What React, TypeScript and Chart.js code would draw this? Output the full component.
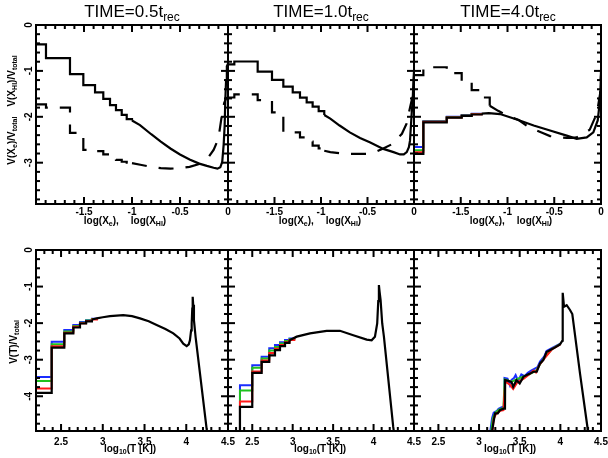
import React, { useEffect, useRef } from "react";
import { Chart, registerables } from "chart.js";

Chart.register(...registerables);

type Pt = [number, number];

// ---------------- Upper row: volume fraction vs log(X_e) (solid) and log(X_HI) (dashed)
// TIME = 0.5 t_rec
const xeSolidStep05: Pt[] = [[-2.0,-0.42],[-1.896,-0.72],[-1.646,-1.07],[-1.507,-1.31],[-1.385,-1.47],[-1.299,-1.61],[-1.229,-1.745],[-1.167,-1.855],[-1.107,-1.96],[-1.055,-2.05],[-1.0,-2.08]];
const xeSolidCurve05: Pt[] = [[-1.0,-2.08],[-0.917,-2.18],[-0.8,-2.38],[-0.7,-2.54],[-0.6,-2.69],[-0.5,-2.82],[-0.4,-2.93],[-0.3,-3.02],[-0.22,-3.07],[-0.15,-3.11],[-0.11,-3.13],[-0.08,-3.10],[-0.06,-2.98],[-0.045,-2.6],[-0.035,-2.2],[-0.028,-1.64],[-0.02,-1.2],[-0.012,-0.9],[0,-0.84]];
const xhiDashStep05: Pt[] = [[-2.0,-1.73],[-1.896,-1.80],[-1.646,-2.35],[-1.507,-2.72],[-1.385,-2.75],[-1.299,-2.82],[-1.229,-2.88],[-1.167,-2.94],[-1.107,-2.98],[-1.055,-3.0],[-1.0,-3.01]];
const xhiDashCurve05: Pt[] = [[-1.0,-3.01],[-0.9,-3.05],[-0.8,-3.09],[-0.7,-3.12],[-0.6,-3.13],[-0.5,-3.12],[-0.4,-3.09],[-0.3,-3.03],[-0.25,-2.97],[-0.2,-2.87],[-0.15,-2.72],[-0.1,-2.48],[-0.07,-2.05],[-0.04,-1.7],[-0.02,-1.6],[0,-1.57]];

// TIME = 1.0 t_rec
const xeSolidStep10: Pt[] = [[-2.0,-0.86],[-1.932,-0.795],[-1.681,-1.015],[-1.527,-1.197],[-1.405,-1.343],[-1.304,-1.467],[-1.226,-1.584],[-1.154,-1.686],[-1.09,-1.78],[-1.025,-1.876],[-0.965,-1.96]];
const xeSolidCurve10: Pt[] = [[-0.965,-1.96],[-0.9,-2.04],[-0.8,-2.19],[-0.69,-2.34],[-0.58,-2.46],[-0.47,-2.56],[-0.33,-2.70],[-0.22,-2.77],[-0.15,-2.82],[-0.11,-2.82],[-0.078,-2.77],[-0.055,-2.66],[-0.043,-2.52],[-0.025,-1.93],[-0.014,-1.64],[-0.006,-1.2],[0,-1.02]];
const xhiDashStep10: Pt[] = [[-2.0,-1.58],[-1.932,-1.51],[-1.681,-1.635],[-1.527,-1.905],[-1.405,-2.34],[-1.226,-2.45],[-1.154,-2.54],[-1.09,-2.63],[-1.025,-2.69],[-0.965,-2.74]];
const xhiDashCurve10: Pt[] = [[-0.965,-2.74],[-0.9,-2.77],[-0.78,-2.80],[-0.62,-2.81],[-0.5,-2.81],[-0.43,-2.78],[-0.33,-2.69],[-0.24,-2.60],[-0.13,-2.37],[-0.08,-2.15],[-0.043,-1.8],[-0.02,-1.6],[0,-1.5]];

// TIME = 4.0 t_rec
const xeSolidStep40: Pt[] = [[-2.0,-2.81],[-1.90,-2.12],[-1.65,-2.02],[-1.49,-1.98],[-1.383,-1.95],[-1.276,-1.93]];
const xeSolidCurve40: Pt[] = [[-1.276,-1.93],[-1.2,-1.92],[-1.08,-1.94],[-0.9,-2.06],[-0.72,-2.19],[-0.545,-2.30],[-0.367,-2.41],[-0.26,-2.48],[-0.153,-2.45],[-0.082,-2.34],[-0.035,-2.08],[-0.011,-1.64],[0,-1.1]];
const xeBlueStep40: Pt[] = [[-2.0,-2.66],[-1.90,-2.09],[-1.65,-2.0],[-1.49,-1.96],[-1.383,-1.935],[-1.276,-1.915]];
const xeGreenStep40: Pt[] = [[-2.0,-2.73],[-1.90,-2.10],[-1.65,-2.01],[-1.49,-1.97],[-1.383,-1.94],[-1.276,-1.92]];
const xeRedStep40: Pt[] = [[-2.0,-2.77],[-1.90,-2.11],[-1.65,-2.015],[-1.49,-1.975],[-1.383,-1.945],[-1.276,-1.925]];
const xhiDashStep40: Pt[] = [[-2.0,-1.09],[-1.90,-0.92],[-1.65,-1.05],[-1.49,-1.23],[-1.383,-1.42],[-1.276,-1.58],[-1.19,-1.76]];
const xhiDashCurve40: Pt[] = [[-1.19,-1.76],[-1.1,-1.87],[-1.0,-1.98],[-0.88,-2.07],[-0.77,-2.23],[-0.63,-2.35],[-0.545,-2.42],[-0.45,-2.45],[-0.367,-2.46],[-0.3,-2.46],[-0.26,-2.45],[-0.19,-2.38],[-0.12,-2.28],[-0.06,-2.0],[-0.03,-1.75],[-0.01,-1.5],[0,-1.02]];

// ---------------- Lower row: volume fraction vs log10(T)
// TIME = 0.5 t_rec
const tBlackStep05: Pt[] = [[2.2,-3.91],[2.388,-2.67],[2.539,-2.28],[2.647,-2.12],[2.727,-2.01],[2.80,-1.95],[2.87,-1.90]];
const tBlackCurve05: Pt[] = [[2.87,-1.90],[2.927,-1.87],[3.0,-1.84],[3.086,-1.81],[3.245,-1.78],[3.35,-1.81],[3.446,-1.87],[3.55,-1.95],[3.645,-2.05],[3.75,-2.16],[3.845,-2.28],[3.92,-2.42],[3.964,-2.56],[4.005,-2.63],[4.03,-2.58],[4.044,-2.47],[4.058,-2.2],[4.065,-2.01],[4.072,-1.6],[4.077,-1.28],[4.083,-1.5],[4.092,-1.92],[4.112,-2.38],[4.244,-4.89],[4.26,-5.1]];
const tBlueStep05: Pt[] = [[2.2,-3.47],[2.388,-2.51],[2.539,-2.19],[2.647,-2.05],[2.727,-1.97],[2.80,-1.92],[2.87,-1.88],[2.93,-1.86]];
const tGreenStep05: Pt[] = [[2.2,-3.58],[2.388,-2.58],[2.539,-2.23],[2.647,-2.08],[2.727,-1.99],[2.80,-1.93],[2.87,-1.89],[2.93,-1.87]];
const tRedStep05: Pt[] = [[2.2,-3.79],[2.388,-2.63],[2.539,-2.26],[2.647,-2.10],[2.727,-2.0],[2.80,-1.94],[2.87,-1.90],[2.93,-1.87]];

// TIME = 1.0 t_rec
const tBlackStep10: Pt[] = [[2.2,-5.5],[2.348,-4.29],[2.50,-3.36],[2.616,-3.06],[2.71,-2.88],[2.781,-2.74],[2.843,-2.63],[2.905,-2.54],[2.96,-2.47]];
const tBlackCurve10: Pt[] = [[2.96,-2.47],[3.05,-2.37],[3.214,-2.28],[3.42,-2.21],[3.584,-2.21],[3.749,-2.33],[3.915,-2.45],[3.976,-2.47],[4.017,-2.37],[4.045,-2.01],[4.058,-1.4],[4.066,-0.96],[4.075,-1.15],[4.087,-1.37],[4.107,-2.01],[4.128,-2.37],[4.243,-4.84],[4.26,-5.1]];
const tBlueStep10: Pt[] = [[2.2,-5.5],[2.348,-3.70],[2.50,-3.15],[2.616,-2.92],[2.71,-2.69],[2.781,-2.60],[2.843,-2.52],[2.905,-2.46],[2.96,-2.42],[3.02,-2.39]];
const tGreenStep10: Pt[] = [[2.2,-5.5],[2.348,-3.84],[2.50,-3.22],[2.616,-2.97],[2.71,-2.75],[2.781,-2.65],[2.843,-2.56],[2.905,-2.49],[2.96,-2.44],[3.02,-2.40]];
const tRedStep10: Pt[] = [[2.2,-5.5],[2.348,-4.14],[2.50,-3.32],[2.616,-3.02],[2.71,-2.82],[2.781,-2.70],[2.843,-2.60],[2.905,-2.52],[2.96,-2.46],[3.02,-2.41]];

// TIME = 4.0 t_rec
const tBlack40: Pt[] = [[3.15,-5.1],[3.175,-4.75],[3.197,-4.47],[3.23,-4.47],[3.257,-4.38],[3.30,-4.34],[3.319,-4.34],[3.321,-3.56],[3.36,-3.58],[3.40,-3.61],[3.42,-3.74],[3.46,-3.56],[3.50,-3.65],[3.545,-3.47],[3.586,-3.42],[3.627,-3.38],[3.668,-3.33],[3.71,-3.33],[3.75,-3.10],[3.79,-3.01],[3.83,-2.79],[3.87,-2.74],[3.916,-2.69],[3.996,-2.58],[4.025,-2.48],[4.029,-1.17],[4.045,-1.55],[4.078,-1.51],[4.119,-1.64],[4.147,-1.75],[4.242,-3.38],[4.333,-4.84],[4.34,-5.1]];
const tBlue40: Pt[] = [[3.13,-5.1],[3.16,-4.6],[3.18,-4.45],[3.22,-4.40],[3.24,-4.34],[3.28,-4.30],[3.31,-4.28],[3.313,-3.50],[3.35,-3.52],[3.38,-3.70],[3.40,-3.55],[3.43,-3.50],[3.45,-3.42],[3.48,-3.58],[3.52,-3.40],[3.56,-3.45],[3.60,-3.36],[3.64,-3.30],[3.68,-3.25],[3.72,-3.20],[3.75,-3.05],[3.80,-2.92],[3.83,-2.76],[3.9,-2.68],[4.0,-2.56]];
const tGreen40: Pt[] = [[3.14,-5.1],[3.17,-4.6],[3.2,-4.45],[3.25,-4.36],[3.3,-4.32],[3.315,-3.54],[3.4,-3.6],[3.5,-3.5],[3.6,-3.42],[3.7,-3.3],[3.8,-2.95],[3.9,-2.7],[4.0,-2.57]];
const tRed40: Pt[] = [[3.16,-5.1],[3.18,-4.62],[3.21,-4.48],[3.26,-4.40],[3.30,-4.38],[3.322,-3.6],[3.38,-3.68],[3.42,-3.80],[3.47,-3.62],[3.55,-3.52],[3.62,-3.40],[3.67,-3.30],[3.70,-3.35],[3.74,-3.15],[3.8,-2.98],[3.9,-2.71],[4.0,-2.58]];

// ---------------- Axes
const TIMES = ["0.5", "1.0", "4.0"];
const TOP_X_TICKS = [-1.5, -1, -0.5, 0];
const TOP_Y_TICKS = [0, -1, -2, -3];
const BOT_X_TICKS = [2.5, 3, 3.5, 4, 4.5];
const BOT_Y_TICKS = [0, -1, -2, -3, -4];
const TOP_X_RANGE: [number, number] = [-2, 0];
const TOP_Y_RANGE: [number, number] = [-3.9, 0];
const BOT_X_RANGE: [number, number] = [2.2, 4.5];
const BOT_Y_RANGE: [number, number] = [-4.95, 0];

const FONT = "'Liberation Sans', Arial, Helvetica, sans-serif";
const TICK_FONT = { family: FONT, size: 10, weight: "bold" as const };

const COLS: [number, number][] = [[36, 228], [228, 414], [414, 601]];
const ROWS: [number, number][] = [[25, 204], [250, 431]];
const PAD_L = 34, PAD_R = 12, PAD_T = 8, PAD_B = 26;

const BLACK = "#000000", BLUE = "#1a2cff", GREEN = "#1fc21f", RED = "#ff1a1a";

function ds(data: Pt[], color: string, order: number, extra: any = {}) {
  return {
    data,
    borderColor: color,
    backgroundColor: color,
    borderWidth: color === BLACK ? 2.2 : 2,
    pointRadius: 0,
    fill: false,
    tension: 0,
    order,
    borderCapStyle: "butt",
    borderJoinStyle: "miter",
    ...extra,
  };
}

type PanelSpec = {
  col: number; row: number;
  xRange: [number, number]; yRange: [number, number];
  xTicks: number[]; yTicks: number[];
  xMinor: number; yMinor: number;
  datasets: any[];
  showY: boolean;
  xPad: number;
};

function makeFrameTicks(xRange: number[], yRange: number[], xMinor: number, yMinor: number) {
  return {
    id: "frameTicks",
    afterDraw(chart: any) {
      const ctx = chart.ctx;
      const a = chart.chartArea;
      const L = a.left, R = a.right, T = a.top, B = a.bottom;
      const x0 = xRange[0], x1 = xRange[1], y0 = yRange[0], y1 = yRange[1];
      ctx.save();
      ctx.fillStyle = "#000000";
      const nx = Math.round((x1 - x0) / xMinor);
      for (let k = 0; k <= nx; k++) {
        const v = x0 + k * xMinor;
        const r = v / 0.5;
        const major = Math.abs(r - Math.round(r)) < 1e-4;
        const len = major ? 7 : 4;
        const p = L + ((v - x0) / (x1 - x0)) * (R - L);
        ctx.fillRect(p - 1, B - len, 2, len);
        ctx.fillRect(p - 1, T, 2, len);
      }
      const ny = Math.round((y1 - y0) / yMinor);
      for (let k = 0; k <= ny; k++) {
        const v = y1 - k * yMinor;
        if (v < y0 - 1e-6) break;
        const major = Math.abs(v - Math.round(v)) < 1e-4;
        const len = major ? 7 : 4;
        const p = T + ((y1 - v) / (y1 - y0)) * (B - T);
        ctx.fillRect(L, p - 1, len, 2);
        ctx.fillRect(R - len, p - 1, len, 2);
      }
      ctx.strokeStyle = "#000000";
      ctx.lineWidth = 2;
      ctx.strokeRect(L, T, R - L, B - T);
      ctx.restore();
    },
  };
}

function Panel({ spec }: { spec: PanelSpec }) {
  const ref = useRef<HTMLCanvasElement>(null);
  const [c0, c1] = COLS[spec.col];
  const [r0, r1] = ROWS[spec.row];
  const w = c1 - c0 + PAD_L + PAD_R;
  const h = r1 - r0 + PAD_T + PAD_B;
  useEffect(() => {
    const chart = new Chart(ref.current as HTMLCanvasElement, {
      type: "line",
      data: { datasets: spec.datasets },
      options: {
        animation: false,
        responsive: false,
        events: [],
        layout: { padding: { left: 0, right: PAD_R, top: PAD_T, bottom: 0 } },
        plugins: {
          legend: { display: false },
          tooltip: { enabled: false },
          title: { display: false },
        },
        scales: {
          x: {
            type: "linear",
            min: spec.xRange[0],
            max: spec.xRange[1],
            grid: { display: false, drawTicks: false },
            border: { display: false },
            ticks: {
              font: TICK_FONT, color: "#000", padding: spec.xPad,
              minRotation: 0, maxRotation: 0, autoSkip: false,
              callback: (v: any) => String(v),
            },
            afterBuildTicks: (s: any) => { s.ticks = spec.xTicks.map((v) => ({ value: v })); },
            afterFit: (s: any) => { s.height = PAD_B; s.paddingLeft = 0; s.paddingRight = 0; },
          },
          y: {
            type: "linear",
            min: spec.yRange[0],
            max: spec.yRange[1],
            grid: { display: false, drawTicks: false },
            border: { display: false },
            ticks: {
              display: spec.showY,
              font: TICK_FONT, color: "#000", padding: 2,
              minRotation: 90, maxRotation: 90, crossAlign: "center", autoSkip: false,
              callback: (v: any) => String(v),
            },
            afterBuildTicks: (s: any) => { s.ticks = spec.yTicks.map((v) => ({ value: v })); },
            afterFit: (s: any) => { s.width = PAD_L; s.paddingTop = 0; s.paddingBottom = 0; },
          },
        } as any,
      },
      plugins: [makeFrameTicks(spec.xRange, spec.yRange, spec.xMinor, spec.yMinor) as any],
    } as any);
    return () => chart.destroy();
  }, []);
  return (
    <canvas
      ref={ref}
      width={w}
      height={h}
      style={{ position: "absolute", left: c0 - PAD_L, top: r0 - PAD_T, width: w, height: h }}
    />
  );
}

const DASH = [15, 12];

const panels: PanelSpec[] = [
  {
    col: 0, row: 0, xRange: TOP_X_RANGE, yRange: TOP_Y_RANGE, xTicks: TOP_X_TICKS, yTicks: TOP_Y_TICKS,
    xMinor: 0.1, yMinor: 0.2, showY: true, xPad: 2,
    datasets: [
      ds(xeSolidStep05, BLACK, 0, { stepped: true }),
      ds(xeSolidCurve05, BLACK, 0),
      ds(xhiDashStep05, BLACK, 1, { stepped: true, borderDash: DASH }),
      ds(xhiDashCurve05, BLACK, 1, { borderDash: DASH }),
    ],
  },
  {
    col: 1, row: 0, xRange: TOP_X_RANGE, yRange: TOP_Y_RANGE, xTicks: TOP_X_TICKS, yTicks: TOP_Y_TICKS,
    xMinor: 0.1, yMinor: 0.2, showY: false, xPad: 2,
    datasets: [
      ds(xeSolidStep10, BLACK, 0, { stepped: true }),
      ds(xeSolidCurve10, BLACK, 0),
      ds(xhiDashStep10, BLACK, 1, { stepped: true, borderDash: DASH }),
      ds(xhiDashCurve10, BLACK, 1, { borderDash: DASH }),
    ],
  },
  {
    col: 2, row: 0, xRange: TOP_X_RANGE, yRange: TOP_Y_RANGE, xTicks: TOP_X_TICKS, yTicks: TOP_Y_TICKS,
    xMinor: 0.1, yMinor: 0.2, showY: false, xPad: 2,
    datasets: [
      ds(xeSolidStep40, BLACK, 0, { stepped: true }),
      ds(xeSolidCurve40, BLACK, 0),
      ds(xhiDashStep40, BLACK, 1, { stepped: true, borderDash: DASH }),
      ds(xhiDashCurve40, BLACK, 1, { borderDash: DASH }),
      ds(xeRedStep40, RED, 2, { stepped: true }),
      ds(xeGreenStep40, GREEN, 3, { stepped: true }),
      ds(xeBlueStep40, BLUE, 4, { stepped: true }),
    ],
  },
  {
    col: 0, row: 1, xRange: BOT_X_RANGE, yRange: BOT_Y_RANGE, xTicks: BOT_X_TICKS, yTicks: BOT_Y_TICKS,
    xMinor: 0.1, yMinor: 0.25, showY: true, xPad: 5,
    datasets: [
      ds(tBlackStep05, BLACK, 0, { stepped: true }),
      ds(tBlackCurve05, BLACK, 0),
      ds(tRedStep05, RED, 2, { stepped: true }),
      ds(tGreenStep05, GREEN, 3, { stepped: true }),
      ds(tBlueStep05, BLUE, 4, { stepped: true }),
    ],
  },
  {
    col: 1, row: 1, xRange: BOT_X_RANGE, yRange: BOT_Y_RANGE, xTicks: BOT_X_TICKS, yTicks: BOT_Y_TICKS,
    xMinor: 0.1, yMinor: 0.25, showY: false, xPad: 5,
    datasets: [
      ds(tBlackStep10, BLACK, 0, { stepped: true }),
      ds(tBlackCurve10, BLACK, 0),
      ds(tRedStep10, RED, 2, { stepped: true }),
      ds(tGreenStep10, GREEN, 3, { stepped: true }),
      ds(tBlueStep10, BLUE, 4, { stepped: true }),
    ],
  },
  {
    col: 2, row: 1, xRange: BOT_X_RANGE, yRange: BOT_Y_RANGE, xTicks: BOT_X_TICKS, yTicks: BOT_Y_TICKS,
    xMinor: 0.1, yMinor: 0.25, showY: false, xPad: 5,
    datasets: [
      ds(tBlack40, BLACK, 0),
      ds(tRed40, RED, 2),
      ds(tGreen40, GREEN, 3),
      ds(tBlue40, BLUE, 4),
    ],
  },
];

const Sub = ({ children, size = 7, drop = 2 }: any) => (
  <span style={{ fontSize: size, position: "relative", top: drop }}>{children}</span>
);

const TITLE_X = [132, 321, 508];
const XT_TOP_X = [125, 320, 511];
const XT_BOT_X = [130, 320, 510];

const abs = (extra: any): any => ({
  position: "absolute",
  whiteSpace: "nowrap",
  fontFamily: FONT,
  color: "#000",
  ...extra,
});

export default function App() {
  return (
    <div style={{ position: "absolute", left: 0, top: 0, width: 608, height: 458, background: "#fff", overflow: "hidden" }}>
      {panels.map((p, i) => (
        <Panel key={i} spec={p} />
      ))}
      {TIMES.map((t, i) => (
        <div key={"t" + i} style={abs({ left: TITLE_X[i], top: 3, transform: "translateX(-50%)", fontSize: 17, lineHeight: "17px" })}>
          TIME={t}t<Sub size={12} drop={4}>rec</Sub>
        </div>
      ))}
      {XT_TOP_X.map((x, i) => (
        <div key={"xa" + i} style={abs({ left: x, top: 215, transform: "translateX(-50%)", fontSize: 10, fontWeight: "bold", lineHeight: "11px" })}>
          log(X<Sub>e</Sub>),<span style={{ display: "inline-block", width: 12 }} />log(X<Sub>HI</Sub>)
        </div>
      ))}
      {XT_BOT_X.map((x, i) => (
        <div key={"xb" + i} style={abs({ left: x, top: 443, transform: "translateX(-50%)", fontSize: 10, fontWeight: "bold", lineHeight: "11px" })}>
          log<Sub>10</Sub>(T [K])
        </div>
      ))}
      <div style={abs({ left: 12, top: 110, transform: "translate(-50%,-50%) rotate(-90deg)", fontSize: 10, fontWeight: "bold", lineHeight: "11px" })}>
        V(X<Sub>e</Sub>)/V<Sub>total</Sub>
        <span style={{ display: "inline-block", width: 10 }} />
        V(X<Sub>HI</Sub>)/V<Sub>total</Sub>
      </div>
      <div style={abs({ left: 14, top: 342, transform: "translate(-50%,-50%) rotate(-90deg)", fontSize: 10, fontWeight: "bold", lineHeight: "11px" })}>
        V(T)/V<Sub>total</Sub>
      </div>
    </div>
  );
}
